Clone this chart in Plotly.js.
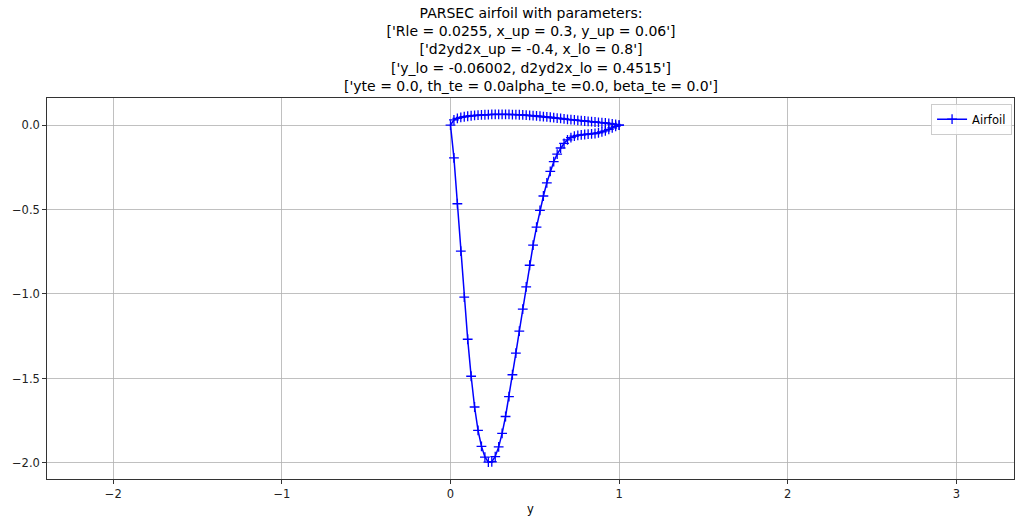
<!DOCTYPE html>
<html>
<head>
<meta charset="utf-8">
<script src="https://cdn.plot.ly/plotly-3.0.1.min.js"></script>
<style>html,body{margin:0;padding:0;background:#fff;}#chart{width:1015px;height:518px;}</style>
</head>
<body>
<div id="chart"></div>
<script>
// Upper surface (leading edge -> trailing edge)
const upperX = [0, 0.0204, 0.0408, 0.0612, 0.0816, 0.102, 0.1224, 0.1429, 0.1633, 0.1837,
  0.2041, 0.2245, 0.2449, 0.2653, 0.2857, 0.3061, 0.3265, 0.3469, 0.3673, 0.3878,
  0.4082, 0.4286, 0.449, 0.4694, 0.4898, 0.5102, 0.5306, 0.551, 0.5714, 0.5918,
  0.6122, 0.6327, 0.6531, 0.6735, 0.6939, 0.7143, 0.7347, 0.7551, 0.7755, 0.7959,
  0.8163, 0.8367, 0.8571, 0.8776, 0.898, 0.9184, 0.9388, 0.9592, 0.9796, 1.0];
const upperY = [0, 0.030, 0.039, 0.045, 0.049, 0.052, 0.055, 0.057, 0.059, 0.060,
  0.061, 0.062, 0.063, 0.063, 0.063, 0.063, 0.063, 0.063, 0.062, 0.062,
  0.061, 0.060, 0.059, 0.057, 0.056, 0.054, 0.052, 0.050, 0.048, 0.046,
  0.044, 0.041, 0.039, 0.036, 0.034, 0.032, 0.030, 0.028, 0.026, 0.024,
  0.022, 0.020, 0.018, 0.016, 0.014, 0.012, 0.009, 0.007, 0.004, 0];
// Lower surface (leading edge -> trailing edge)
const lowerX = upperX.slice();
const lowerY = [0, -0.194, -0.466, -0.746, -1.019, -1.268, -1.487, -1.669, -1.807, -1.902,
  -1.965, -1.995, -1.993, -1.962, -1.905, -1.825, -1.725, -1.607, -1.478, -1.350,
  -1.220, -1.090, -0.958, -0.830, -0.711, -0.604, -0.505, -0.420, -0.342, -0.274,
  -0.217, -0.172, -0.136, -0.108, -0.088, -0.074, -0.066, -0.061, -0.058, -0.056,
  -0.054, -0.052, -0.050, -0.046, -0.041, -0.034, -0.026, -0.017, -0.008, 0];

const titleLines = [
  "PARSEC airfoil with parameters:",
  "['Rle = 0.0255, x_up = 0.3, y_up = 0.06']",
  "['d2yd2x_up = -0.4, x_lo = 0.8']",
  "['y_lo = -0.06002, d2yd2x_lo = 0.4515']",
  "['yte = 0.0, th_te = 0.0alpha_te =0.0, beta_te = 0.0']"
];
const seriesName = "Airfoil";
const xAxisLabel = "y";

const xs = upperX.slice().reverse().concat(lowerX.slice(1));
const ys = upperY.slice().reverse().concat(lowerY.slice(1));

const font = "DejaVu Sans, sans-serif";
const trace = {
  x: xs, y: ys, type: "scatter", mode: "lines+markers", name: seriesName,
  line: {color: "#0000ff", width: 1.5},
  marker: {symbol: "cross-thin", size: 7, color: "#0000ff", line: {color: "#0000ff", width: 1.3}}
};
const axisCommon = {
  showgrid: true, gridcolor: "#b0b0b0", gridwidth: 0.8,
  showline: true, linecolor: "#000", linewidth: 0.8, mirror: true,
  ticks: "outside", ticklen: 4, tickwidth: 0.8, tickcolor: "#000",
  zeroline: false, tickfont: {family: font, size: 11.5, color: "#222"}
};
const layout = {
  width: 1015, height: 518,
  paper_bgcolor: "#fff", plot_bgcolor: "#fff",
  margin: {l: 47, r: 1, t: 98, b: 39},
  font: {family: font, size: 11.5, color: "#000"},
  annotations: [{
    text: titleLines.join("<br>"), font: {family: font, size: 14, color: "#000"},
    xref: "paper", yref: "paper", x: 0.5, y: 1 + 95/381, xanchor: "center", yanchor: "top",
    showarrow: false, align: "center"
  }],
  xaxis: Object.assign({}, axisCommon, {range: [-2.393, 3.342], dtick: 1, tick0: 0,
          title: {text: xAxisLabel, font: {family: font, size: 11.5, color: "#000"}, standoff: 5}}),
  yaxis: Object.assign({}, axisCommon, {range: [-2.095, 0.160], dtick: 0.5, tick0: 0, tickformat: ".1f"}),
  showlegend: true,
  legend: {x: 0.998, y: 0.985, xanchor: "right", yanchor: "top",
           bgcolor: "rgba(255,255,255,0.8)", bordercolor: "#cccccc", borderwidth: 1,
           font: {family: font, size: 11.5, color: "#000"}, itemwidth: 30}
};
Plotly.newPlot("chart", [trace], layout, {displayModeBar: false, staticPlot: true});
</script>
</body>
</html>
